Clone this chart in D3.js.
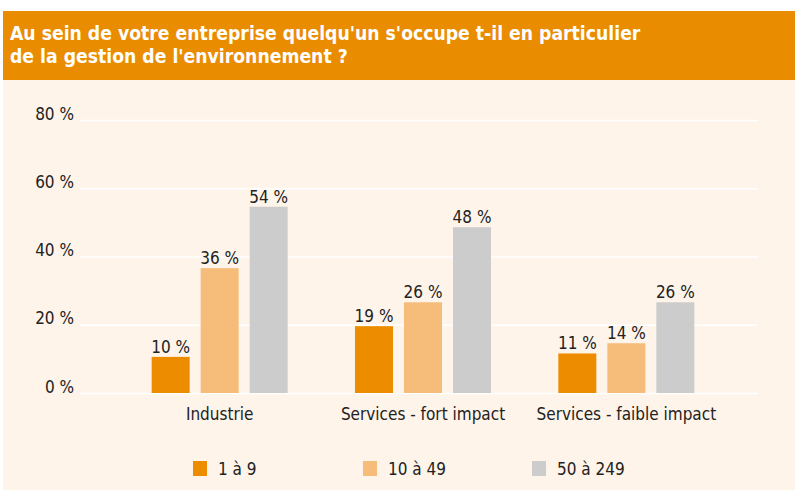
<!DOCTYPE html>
<html>
<head>
<meta charset="utf-8">
<script src="https://cdn.jsdelivr.net/npm/d3@7"></script>
<style>
  body { margin: 0; background: #fff; }
  text { font-family: "DejaVu Sans Condensed", sans-serif; }
</style>
</head>
<body>
<div class="chart"></div>
<script>
var categories = ["Industrie", "Services - fort impact", "Services - faible impact"];
var seriesNames = ["1 à 9", "10 à 49", "50 à 249"];
var values1 = [10, 19, 11];
var values2 = [36, 26, 14];
var values3 = [54, 48, 26];
var yTicks = [0, 20, 40, 60, 80];
var colors = ["#ee8c00", "#f6bc7a", "#cccccc"];

var svgWidth = 795;
var svgHeight = 490;

var svg = d3.select(".chart")
  .append("svg")
  .attr("width", svgWidth)
  .attr("height", svgHeight);

// background + title band
svg.append("rect")
  .attr("x", 3).attr("y", 80)
  .attr("width", svgWidth - 3).attr("height", svgHeight - 80)
  .attr("fill", "#fef4ea");

svg.append("rect")
  .attr("x", 3).attr("y", 11)
  .attr("width", svgWidth - 3).attr("height", 69)
  .attr("fill", "#ea8c00");

var title = svg.append("text")
  .attr("fill", "#fff")
  .attr("font-weight", "bold")
  .attr("font-size", 19.2);
title.append("tspan").attr("x", 10).attr("y", 40)
  .text("Au sein de votre entreprise quelqu'un s'occupe t-il en particulier");
title.append("tspan").attr("x", 10).attr("y", 63)
  .text("de la gestion de l'environnement ?");

// scales
var y = d3.scaleLinear().domain([0, 80]).range([393, 120]);
var x0 = d3.scaleBand().domain(categories).range([118, 728]);
var x1 = d3.scaleBand().domain(seriesNames).range([-68, 68]).paddingInner(11 / 49);

// grid
var yAxis = d3.axisLeft(y).tickValues(yTicks).tickSize(-678).tickFormat(d => d + " %");
var gAxis = svg.append("g")
  .attr("transform", "translate(80,0)")
  .call(yAxis);
gAxis.select(".domain").remove();
gAxis.selectAll(".tick line").attr("stroke", "#fff").attr("stroke-width", 1.5);
gAxis.selectAll(".tick text")
  .attr("x", -6)
  .attr("dy", "-0.05em")
  .attr("fill", "#222")
  .attr("font-size", 17)
  .style("font-family", "'DejaVu Sans Condensed', sans-serif");

// bars
var table = categories.map(function(c, i) {
  return { cat: c, vals: [values1[i], values2[i], values3[i]] };
});

var groups = svg.selectAll(".group")
  .data(table)
  .enter()
  .append("g")
  .attr("transform", d => `translate(${x0(d.cat) + x0.bandwidth() / 2},0)`);

groups.selectAll("rect")
  .data(d => d.vals.map((v, j) => ({ name: seriesNames[j], v: v, j: j })))
  .enter()
  .append("rect")
  .attr("x", d => x1(d.name))
  .attr("y", d => y(d.v) - 2)
  .attr("width", x1.bandwidth())
  .attr("height", d => y(0) - y(d.v) + 2)
  .attr("fill", d => colors[d.j]);

groups.selectAll(".val")
  .data(d => d.vals.map((v, j) => ({ name: seriesNames[j], v: v })))
  .enter()
  .append("text")
  .attr("x", d => x1(d.name) + x1.bandwidth() / 2)
  .attr("y", d => y(d.v) - 6)
  .attr("text-anchor", "middle")
  .attr("font-size", 17)
  .attr("fill", "#222")
  .text(d => d.v + " %");

groups.append("text")
  .attr("y", 420)
  .attr("text-anchor", "middle")
  .attr("font-size", 17)
  .attr("fill", "#222")
  .text(d => d.cat);

// legend
var legendX = [193, 363, 532];
var legend = svg.selectAll(".legend")
  .data(seriesNames)
  .enter()
  .append("g")
  .attr("transform", (d, i) => `translate(${legendX[i]},461)`);
legend.append("rect")
  .attr("width", 14).attr("height", 15)
  .attr("fill", (d, i) => colors[i]);
legend.append("text")
  .attr("x", 25).attr("y", 14)
  .attr("font-size", 17)
  .attr("fill", "#222")
  .text(d => d);
</script>
</body>
</html>
